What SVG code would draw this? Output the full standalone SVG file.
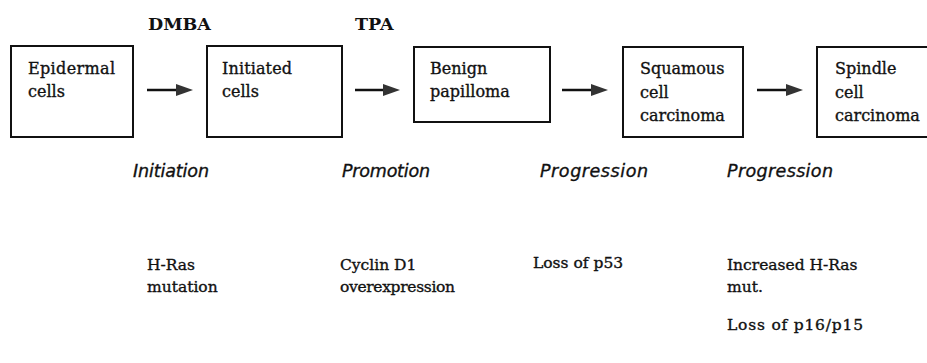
<svg xmlns="http://www.w3.org/2000/svg" width="927" height="363" viewBox="0 0 927 363">
<style>
.box{fill:#fff;stroke:#111;stroke-width:2}
.bt{font-family:"DejaVu Serif","Liberation Serif",serif;font-size:16px;fill:#111;stroke:#111;stroke-width:0.35}
.top{font-family:"DejaVu Serif","Liberation Serif",serif;font-size:17.5px;font-weight:bold;fill:#111}
.it{font-family:"DejaVu Sans","Liberation Sans",sans-serif;font-style:italic;font-size:17.5px;fill:#111;stroke:#111;stroke-width:0.35}
.gt{font-family:"DejaVu Serif","Liberation Serif",serif;font-size:15.5px;fill:#111;stroke:#111;stroke-width:0.35}
.arr{stroke:#111;stroke-width:2.5;fill:none}
.ah{fill:#333}
</style>
<rect width="927" height="363" fill="#fff"/>
<g id="labels-top">
<text class="top" x="148" y="30">DMBA</text>
<text class="top" x="355" y="30">TPA</text>
</g>
<g id="node-epidermal">
<rect class="box" x="11" y="46" width="122" height="91"/>
<text class="bt" x="28" y="74" textLength="87">Epidermal</text>
<text class="bt" x="28" y="97">cells</text>
</g>
<g id="node-initiated">
<rect class="box" x="207" y="46" width="135" height="91"/>
<text class="bt" x="222" y="74" textLength="70">Initiated</text>
<text class="bt" x="222" y="97">cells</text>
</g>
<g id="node-papilloma">
<rect class="box" x="414" y="47" width="136" height="75"/>
<text class="bt" x="430" y="74">Benign</text>
<text class="bt" x="430" y="97">papilloma</text>
</g>
<g id="node-squamous">
<rect class="box" x="623" y="47" width="120" height="90"/>
<text class="bt" x="640" y="74">Squamous</text>
<text class="bt" x="640" y="98">cell</text>
<text class="bt" x="640" y="121">carcinoma</text>
</g>
<g id="node-spindle">
<rect class="box" x="817" y="47" width="120" height="90"/>
<text class="bt" x="835" y="74">Spindle</text>
<text class="bt" x="835" y="98">cell</text>
<text class="bt" x="835" y="121">carcinoma</text>
</g>
<g id="connectors">
<line class="arr" x1="147" y1="90" x2="178" y2="90"/><polygon class="ah" points="176,84 193,90 176,96"/>
<line class="arr" x1="355" y1="90" x2="385" y2="90"/><polygon class="ah" points="383,84 400,90 383,96"/>
<line class="arr" x1="562" y1="90" x2="593" y2="90"/><polygon class="ah" points="591,84 608,90 591,96"/>
<line class="arr" x1="757" y1="90" x2="788" y2="90"/><polygon class="ah" points="786,84 803,90 786,96"/>
</g>
<g id="stages">
<text class="it" x="133" y="177" textLength="76">Initiation</text>
<text class="it" x="342" y="177" textLength="88">Promotion</text>
<text class="it" x="540" y="177" textLength="108">Progression</text>
<text class="it" x="727" y="177" textLength="106">Progression</text>
</g>
<g id="genes">
<text class="gt" x="147" y="270">H-Ras</text>
<text class="gt" x="147" y="292">mutation</text>
<text class="gt" x="340" y="270">Cyclin D1</text>
<text class="gt" x="340" y="292" textLength="115">overexpression</text>
<text class="gt" x="533" y="268">Loss of p53</text>
<text class="gt" x="727" y="270">Increased H-Ras</text>
<text class="gt" x="727" y="292">mut.</text>
<text class="gt" x="727" y="330" textLength="136">Loss of p16/p15</text>
</g>
</svg>
